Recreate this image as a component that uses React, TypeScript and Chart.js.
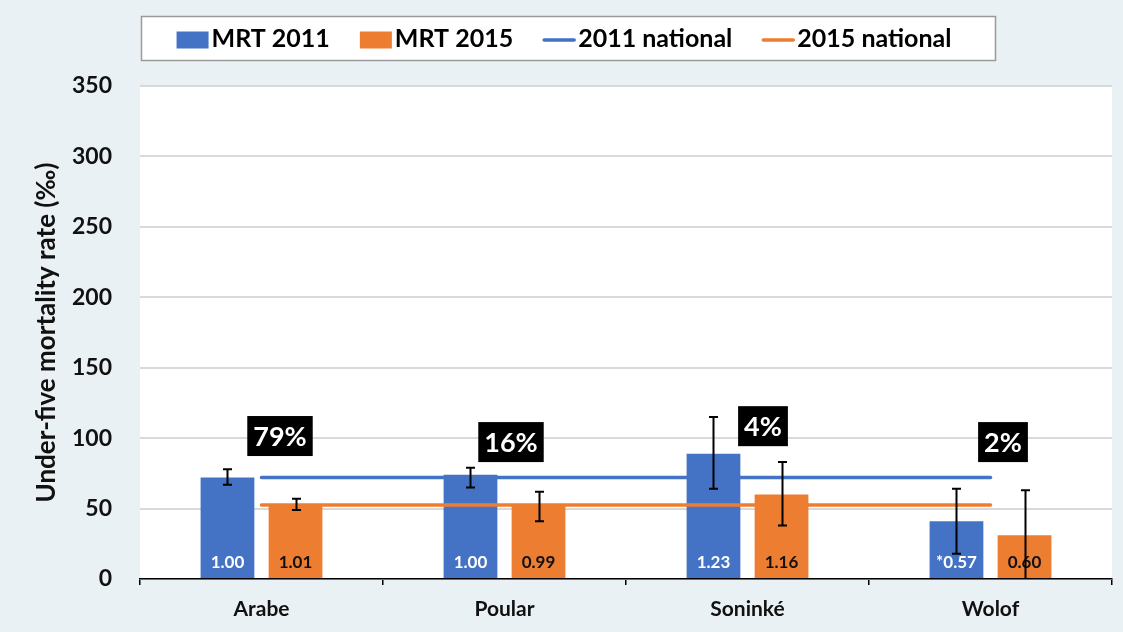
import React, { useEffect, useRef } from 'react';
import { Chart, registerables } from 'chart.js';

Chart.register(...registerables);

const categories = ['Arabe', 'Poular', 'Soninké', 'Wolof'];
const mrt2011 = [72, 74, 89, 41];
const mrt2015 = [53, 53, 60, 31];
const mrt2011Low = [67, 65, 64, 18];
const mrt2011High = [78, 79, 115, 64];
const mrt2015Low = [49, 41, 38, 0];
const mrt2015High = [57, 62, 83, 63];
const national2011 = [72, 72, 72, 72];
const national2015 = [52.5, 52.5, 52.5, 52.5];
const ratio2011 = ['1.00', '1.00', '1.23', '*0.57'];
const ratio2015 = ['1.01', '0.99', '1.16', '0.60'];
const shareLabels = ['79%', '16%', '4%', '2%'];

const BLUE = '#4472C4';
const ORANGE = '#ED7D31';
const FONT = 'Lato, "Open Sans", sans-serif';

const bgPlugin = {
  id: 'bg',
  beforeDraw(chart: any) {
    const { ctx, chartArea } = chart;
    ctx.save();
    ctx.fillStyle = '#EAF1F4';
    ctx.fillRect(0, 0, chart.width, chart.height);
    ctx.fillStyle = '#FFFFFF';
    ctx.fillRect(chartArea.left, chartArea.top, chartArea.right - chartArea.left, chartArea.bottom - chartArea.top);
    ctx.restore();
  },
};

const valueLabelPlugin = {
  id: 'valueLabels',
  afterDatasetsDraw(chart: any) {
    const { ctx } = chart;
    const y0 = chart.scales.y.getPixelForValue(0);
    const sets = [
      { idx: 0, labels: ratio2011, color: '#FFFFFF' },
      { idx: 1, labels: ratio2015, color: '#111111' },
    ];
    ctx.save();
    ctx.font = `bold 17px ${FONT}`;
    ctx.textAlign = 'center';
    ctx.textBaseline = 'middle';
    sets.forEach((s) => {
      const meta = chart.getDatasetMeta(s.idx);
      meta.data.forEach((bar: any, j: number) => {
        ctx.fillStyle = s.color;
        ctx.fillText(s.labels[j], bar.x, y0 - 16);
      });
    });
    ctx.restore();
  },
};

const errorBarPlugin = {
  id: 'errorBars',
  afterDatasetsDraw(chart: any) {
    const { ctx } = chart;
    const ys = chart.scales.y;
    const sets = [
      { idx: 0, low: mrt2011Low, high: mrt2011High },
      { idx: 1, low: mrt2015Low, high: mrt2015High },
    ];
    ctx.save();
    ctx.strokeStyle = '#000000';
    ctx.lineWidth = 2;
    sets.forEach((s) => {
      const meta = chart.getDatasetMeta(s.idx);
      meta.data.forEach((bar: any, j: number) => {
        const yl = ys.getPixelForValue(s.low[j]);
        const yh = ys.getPixelForValue(s.high[j]);
        const x = Math.round(bar.x) + 0.5;
        ctx.beginPath();
        ctx.moveTo(x, yh);
        ctx.lineTo(x, yl);
        ctx.moveTo(x - 4.5, yh);
        ctx.lineTo(x + 4.5, yh);
        if (s.low[j] > 0) {
          ctx.moveTo(x - 4.5, yl);
          ctx.lineTo(x + 4.5, yl);
        }
        ctx.stroke();
      });
    });
    ctx.restore();
  },
};

const sharePlugin = {
  id: 'shares',
  afterDraw(chart: any, _args: any, opts: any) {
    const { ctx } = chart;
    const xs = chart.scales.x;
    const ys = chart.scales.y;
    ctx.save();
    ctx.font = `bold 27px ${FONT}`;
    ctx.textAlign = 'center';
    ctx.textBaseline = 'middle';
    shareLabels.forEach((label, j) => {
      const cx = xs.getPixelForValue(j) + opts.dx[j];
      const cy = ys.getPixelForValue(opts.yValue[j]);
      const tw = ctx.measureText(label).width;
      const w = tw + 12;
      const h = 40;
      ctx.fillStyle = '#000000';
      ctx.fillRect(cx - w / 2, cy - h / 2, w, h);
      ctx.fillStyle = '#FFFFFF';
      ctx.fillText(label, cx, cy + 1);
    });
    ctx.restore();
  },
};

const legendPlugin = {
  id: 'boxLegend',
  afterDraw(chart: any, _args: any, opts: any) {
    const { ctx } = chart;
    const { left, top, right, bottom } = opts.box;
    ctx.save();
    ctx.fillStyle = '#FFFFFF';
    ctx.fillRect(left, top, right - left, bottom - top);
    ctx.strokeStyle = '#9A9A9A';
    ctx.lineWidth = 1.5;
    ctx.strokeRect(left + 0.5, top + 0.5, right - left, bottom - top);
    ctx.font = `bold 25px ${FONT}`;
    ctx.textBaseline = 'middle';
    ctx.textAlign = 'left';
    const keyW = 32;
    const gap = 3;
    const spacing = 30;
    const items = chart.data.datasets.map((d: any) => ({
      text: d.label,
      color: d.type === 'line' ? d.borderColor : d.backgroundColor,
      line: d.type === 'line',
      tw: ctx.measureText(d.label).width,
    }));
    const total = items.reduce((s: number, it: any) => s + keyW + gap + it.tw, 0) + spacing * (items.length - 1);
    let x = (left + right) / 2 - total / 2 - 4;
    const cy = (top + bottom) / 2 + 2;
    items.forEach((it: any) => {
      if (it.line) {
        ctx.strokeStyle = it.color;
        ctx.lineWidth = 3.5;
        ctx.lineCap = 'round';
        ctx.beginPath();
        ctx.moveTo(x + 1, cy);
        ctx.lineTo(x + keyW - 1, cy);
        ctx.stroke();
      } else {
        ctx.fillStyle = it.color;
        ctx.fillRect(x, cy - 8.5, keyW, 17);
      }
      x += keyW + gap;
      ctx.fillStyle = '#000000';
      ctx.fillText(it.text, x, cy - 1);
      x += it.tw + spacing;
    });
    ctx.restore();
  },
};

export default function App() {
  const ref = useRef<HTMLCanvasElement | null>(null);

  useEffect(() => {
    if (!ref.current) return;
    const chart = new Chart(ref.current, {
      type: 'bar',
      data: {
        labels: categories,
        datasets: [
          {
            type: 'bar',
            label: 'MRT 2011',
            data: mrt2011,
            backgroundColor: BLUE,
            borderWidth: 0,
            categoryPercentage: 0.56,
            barPercentage: 0.79,
            order: 2,
          },
          {
            type: 'bar',
            label: 'MRT 2015',
            data: mrt2015,
            backgroundColor: ORANGE,
            borderWidth: 0,
            categoryPercentage: 0.56,
            barPercentage: 0.79,
            order: 2,
          },
          {
            type: 'line',
            label: '2011 national',
            data: national2011,
            borderColor: BLUE,
            backgroundColor: BLUE,
            borderWidth: 3.5,
            pointRadius: 0,
            borderCapStyle: 'round',
            order: 1,
          },
          {
            type: 'line',
            label: '2015 national',
            data: national2015,
            borderColor: ORANGE,
            backgroundColor: ORANGE,
            borderWidth: 3.5,
            pointRadius: 0,
            borderCapStyle: 'round',
            order: 1,
          },
        ] as any,
      },
      options: {
        animation: false,
        responsive: false,
        layout: { padding: { top: 86, right: 11, left: 0, bottom: 0 } },
        plugins: {
          legend: { display: false },
          tooltip: { enabled: false },
          shares: { dx: [18.5, 6.5, 15.5, 12.5], yValue: [101.5, 97.2, 108.5, 97.2] },
          boxLegend: { box: { left: 141, top: 16, right: 995, bottom: 60 } },
        } as any,
        scales: {
          x: {
            offset: true,
            grid: {
              offset: true,
              drawOnChartArea: false,
              drawTicks: true,
              tickLength: 6,
              color: '#000000',
              lineWidth: 1.5,
            },
            border: { display: true, color: '#000000', width: 1.5 },
            ticks: {
              color: '#111111',
              padding: 12,
              font: { family: FONT, size: 21, weight: 'bold' },
            },
            afterFit(scale: any) {
              scale.height = 53;
            },
          },
          y: {
            min: 0,
            max: 350,
            ticks: {
              stepSize: 50,
              color: '#111111',
              padding: 28,
              font: { family: FONT, size: 23, weight: 'bold' },
            },
            grid: { color: '#D9D9D9', lineWidth: 2, drawTicks: false },
            border: { display: false },
            title: {
              display: true,
              text: 'Under-five mortality rate (‰)',
              color: '#111111',
              font: { family: FONT, size: 26, weight: 'bold' },
              padding: { top: 31, bottom: 0 },
            },
            afterFit(scale: any) {
              scale.width = 140;
            },
          },
        },
      } as any,
      plugins: [bgPlugin, valueLabelPlugin, errorBarPlugin, sharePlugin, legendPlugin],
    });
    return () => chart.destroy();
  }, []);

  return (
    <div style={{ position: 'fixed', left: 0, top: 0, width: 1123, height: 632 }}>
      <canvas ref={ref} width={1123} height={632} style={{ display: 'block' }} />
    </div>
  );
}
